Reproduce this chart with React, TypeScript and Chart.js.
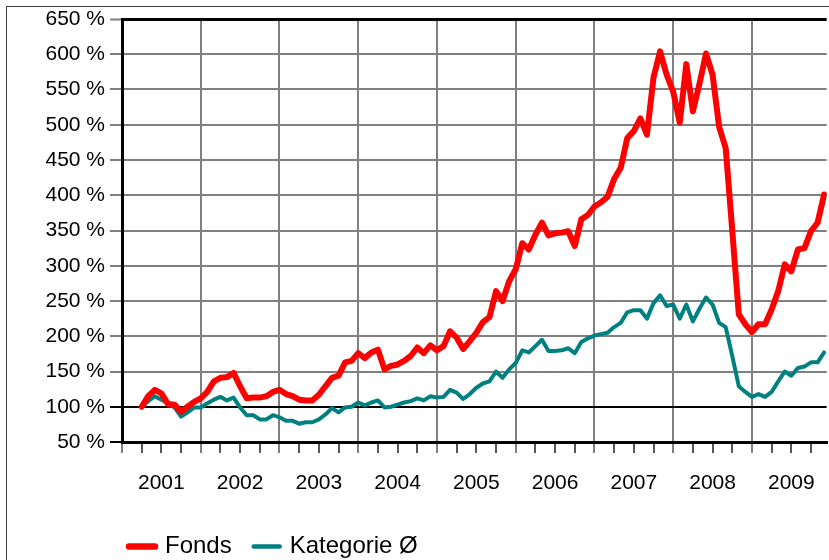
import React, { useEffect, useRef } from 'react';
import { Chart, registerables } from 'chart.js';

Chart.register(...registerables);

// Month index counted from January 2001 (0). First observation: April 2001.
const yearLabels = ['2001', '2002', '2003', '2004', '2005', '2006', '2007', '2008', '2009'];
const firstMonth = 3;
const seriesNames = ['Fonds', 'Kategorie Ø'];

const fonds = [
  100, 115, 124, 119, 104, 103, 93, 100, 107, 112,
  121, 136, 141, 142, 148, 129, 112, 113, 113, 115,
  121, 124, 118, 115, 110, 109, 109, 117, 129, 141,
  144, 163, 165, 176, 169, 177, 181, 153, 158, 160,
  165, 172, 184, 176, 187, 180, 186, 207, 198, 182,
  193, 205, 220, 227, 264, 250, 278, 295, 332, 323,
  344, 361, 343, 346, 347, 349, 328, 366, 372, 384,
  390, 398, 423, 439, 481, 491, 509, 486, 567, 604,
  571, 547, 503, 586, 519, 558, 601, 571, 497, 467,
  350, 231, 217, 206, 217, 217, 238, 264, 302, 292,
  323, 325, 349, 361, 401,
];

const kategorie = [
  100, 108, 115, 110, 105, 99, 86, 92, 99, 99,
  105, 110, 114, 109, 113, 99, 88, 88, 82, 82,
  88, 85, 80, 80, 76, 78, 78, 82, 89, 98,
  92, 99, 100, 106, 102, 106, 109, 99, 100, 103,
  106, 108, 112, 109, 115, 113, 114, 124, 120, 111,
  118, 127, 133, 136, 150, 141, 153, 162, 180, 177,
  186, 195, 179, 179, 180, 183, 176, 192, 197, 201,
  203, 205, 213, 219, 234, 237, 237, 225, 247, 258,
  243, 245, 225, 245, 221, 239, 255, 245, 219, 213,
  172, 129, 121, 114, 118, 114, 121, 136, 150, 144,
  155, 157, 163, 163, 177,
];

const FONT = '"Liberation Sans", Arial, sans-serif';
const GRID = '#808080';

const framePlugin = {
  id: 'frameAndLegend',
  beforeDraw(chart: any) {
    const ctx = chart.ctx;
    ctx.save();
    ctx.strokeStyle = '#404040';
    ctx.lineWidth = 1;
    ctx.strokeRect(6.5, 6.5, 2000, 2000);
    ctx.restore();
  },
  afterDraw(chart: any) {
    const ctx = chart.ctx;
    ctx.save();
    ctx.font = `24px ${FONT}`;
    ctx.textBaseline = 'alphabetic';
    ctx.lineCap = 'round';
    let x = 127;
    const yLine = 546.5;
    chart.data.datasets.forEach((ds: any) => {
      ctx.strokeStyle = ds.borderColor;
      ctx.lineWidth = ds.borderWidth + 0.5;
      ctx.beginPath();
      ctx.moveTo(x + 2, yLine);
      ctx.lineTo(x + 28, yLine);
      ctx.stroke();
      ctx.fillStyle = '#000';
      ctx.fillText(ds.label, x + 38, 553);
      x += 38 + ctx.measureText(ds.label).width + 20;
    });
    ctx.restore();
  },
};

export default function App() {
  const ref = useRef<HTMLCanvasElement | null>(null);

  useEffect(() => {
    document.body.style.margin = '0';
    const canvas = ref.current;
    if (!canvas) return;
    const chart = new Chart(canvas, {
      type: 'line',
      data: {
        datasets: [
          {
            label: seriesNames[0],
            data: fonds.map((v, i) => ({ x: firstMonth + i, y: v })),
            borderColor: '#FF0000',
            backgroundColor: '#FF0000',
            borderWidth: 6,
            pointRadius: 0,
            tension: 0,
            borderJoinStyle: 'round',
            borderCapStyle: 'round',
            order: 1,
          },
          {
            label: seriesNames[1],
            data: kategorie.map((v, i) => ({ x: firstMonth + i, y: v })),
            borderColor: '#008080',
            backgroundColor: '#008080',
            borderWidth: 4,
            pointRadius: 0,
            tension: 0,
            borderJoinStyle: 'round',
            borderCapStyle: 'round',
            order: 2,
          },
        ],
      },
      options: {
        animation: false,
        responsive: false,
        events: [],
        layout: { padding: { left: 0, top: 19, right: 0, bottom: 0 } },
        plugins: { legend: { display: false }, tooltip: { enabled: false } },
        scales: {
          x: {
            type: 'linear',
            min: 0,
            max: 107.39,
            afterBuildTicks: (scale: any) => {
              const t = [];
              for (let v = 0; v <= 105; v += 3) t.push({ value: v });
              scale.ticks = t;
            },
            afterFit: (scale: any) => {
              scale.height = 118;
            },
            border: { display: true, color: '#000', width: 3 },
            grid: {
              color: (c: any) => (c.tick && c.tick.value % 12 === 0 ? GRID : 'rgba(0,0,0,0)'),
              lineWidth: 2,
              drawTicks: true,
              tickLength: 11,
              tickWidth: 2,
              tickColor: (c: any) => (c.tick && c.tick.value % 12 === 0 ? GRID : '#555555'),
            },
            ticks: {
              autoSkip: false,
              maxRotation: 0,
              minRotation: 0,
              padding: 18,
              color: '#000',
              font: { family: FONT, size: 21 },
              callback: (v: any) => {
                const n = Number(v);
                if (n % 12 === 6) return yearLabels[(n - 6) / 12] ?? '';
                return '';
              },
            },
          },
          y: {
            type: 'linear',
            min: 50,
            max: 650,
            afterFit: (scale: any) => {
              scale.width = 122;
            },
            border: { display: true, color: '#000', width: 3 },
            grid: {
              color: (c: any) => {
                const v = c.tick ? c.tick.value : 0;
                if (v === 100 || v === 650) return '#000';
                if (v === 50) return '#000';
                return GRID;
              },
              lineWidth: (c: any) => (c.tick && c.tick.value === 650 ? 3 : 2),
              drawTicks: true,
              tickLength: 12,
              tickWidth: 2,
              tickColor: (c: any) => {
                const v = c.tick ? c.tick.value : 0;
                return v === 100 || v === 50 ? '#000' : GRID;
              },
            },
            ticks: {
              stepSize: 50,
              padding: 5,
              color: '#000',
              font: { family: FONT, size: 21 },
              callback: (v: any) => `${v} %`,
            },
          },
        },
      },
      plugins: [framePlugin],
    } as any);
    return () => chart.destroy();
  }, []);

  return (
    <div style={{ width: 829, height: 560, overflow: 'hidden', background: '#fff' }}>
      <canvas ref={ref} width={829} height={560} style={{ display: 'block' }} />
    </div>
  );
}
